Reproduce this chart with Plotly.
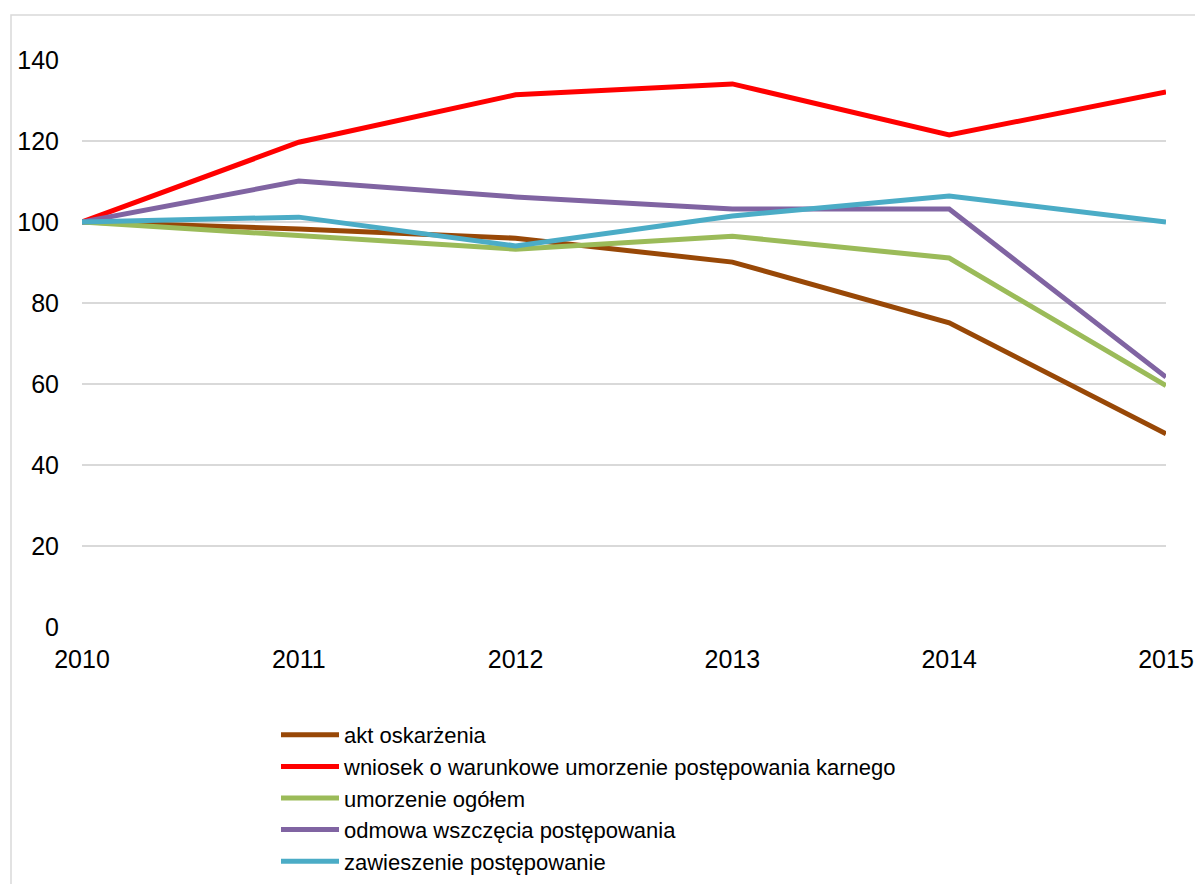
import plotly.graph_objects as go

years = [2010, 2011, 2012, 2013, 2014, 2015]
akt = [100, 98.3, 96.0, 90.1, 75.1, 47.7]
wniosek = [100, 119.7, 131.4, 134.1, 121.5, 132.1]
umorzenie = [100, 96.5, 93.3, 96.5, 91.1, 59.6]
odmowa = [100, 110.1, 106.2, 103.2, 103.2, 61.7]
zawieszenie = [100, 101.2, 94.1, 101.5, 106.4, 100.0]

names = ["akt oskarżenia",
         "wniosek o warunkowe umorzenie postępowania karnego",
         "umorzenie ogółem",
         "odmowa wszczęcia postępowania",
         "zawieszenie postępowanie"]
series = [akt, wniosek, umorzenie, odmowa, zawieszenie]
colors = ["#984807", "#FF0000", "#9BBB59", "#8064A2", "#4BACC6"]

fig = go.Figure()
for i, (n, s, c) in enumerate(zip(names, series, colors)):
    fig.add_trace(go.Scatter(x=years, y=s, name=n, mode="lines",
                             line=dict(color=c, width=5),
                             legendgroup=str(i)))

OFF = 8  # page body margin
W, H = 1203 - OFF, 884 - OFF
L, T = 82 - OFF, 60 - OFF
pw, ph = 1084, 567
R = W - L - pw
B = H - T - ph

fig.update_layout(
    width=W, height=H,
    margin=dict(l=L, r=R, t=T, b=B, autoexpand=False),
    plot_bgcolor="white", paper_bgcolor="white",
    font=dict(family="Liberation Sans, Arial", size=25, color="black"),
    xaxis=dict(range=[2010, 2015], tickvals=years, showgrid=False,
               zeroline=False, showline=False, ticks="", ticklabelstandoff=15,
               tickfont=dict(size=25), automargin=False),
    yaxis=dict(range=[0, 140], tickvals=[0, 20, 40, 60, 80, 100, 120, 140],
               showgrid=True, gridcolor="#D9D9D9", gridwidth=1.5,
               zeroline=False, showline=False, ticks="", ticklabelstandoff=22,
               tickfont=dict(size=25), automargin=False),
    legend=dict(x=(276 - 82) / pw, y=(627 - 714) / ph,
                xanchor="left", yanchor="top",
                font=dict(size=22), traceorder="grouped", tracegroupgap=0,
                itemwidth=58, bgcolor="rgba(0,0,0,0)"),
    showlegend=True,
)
fig.add_shape(type="rect", xref="paper", yref="paper",
              x0=(11 - 82) / pw, y0=(627 - 15) / ph, x1=1.5, y1=-1.0,
              line=dict(color="#D9D9D9", width=1.5), layer="below")
fig.write_html("out.html")
